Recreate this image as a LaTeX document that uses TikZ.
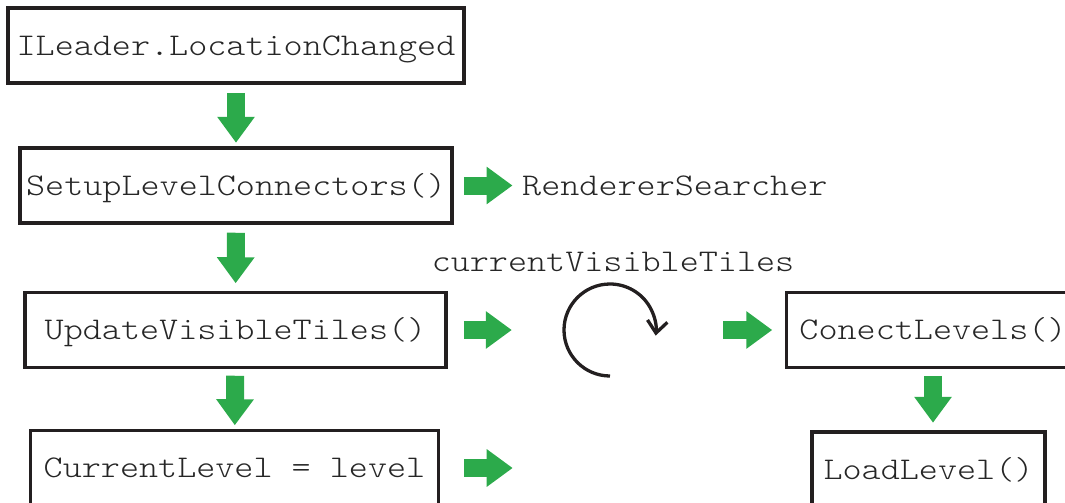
\documentclass[tikz,border=0pt]{standalone}
\usepackage{fontspec}
\newfontfamily\codefamily{lmmonolt10-regular.otf}[FakeStretch=1.15]
\newcommand\codefont{\codefamily\fontsize{31.6}{36}\selectfont}
\usetikzlibrary{arrows.meta}
\definecolor{flowgreen}{RGB}{44,170,75}
\definecolor{inkblack}{RGB}{35,31,32}
\tikzset{
codetext/.style={inner sep=0pt, text height=19.3pt, text depth=0pt,
  font=\codefont, text=black!85},
codebox/.style={codetext, draw=inkblack, line width=3.5pt, minimum height=75pt},
flow/.style={flowgreen, line width=18pt, -{Triangle[width=36pt,length=26pt]}},
loopline/.style={inkblack, line width=3.3pt, -{Straight Barb[length=12pt,width=20pt]}}
}

\begin{document}
\begin{tikzpicture}[x=1pt,y=-1pt]
\useasboundingbox (0,0) rectangle (1065,503);
% call chain on the left
\node[codebox, minimum width=456pt] (leader) at (236,45.5) {ILeader.LocationChanged};
\node[codebox, minimum width=432pt] (setup) at (236,185.5) {SetupLevelConnectors()};
\node[codebox, minimum width=421pt] (update) at (235.5,330) {UpdateVisibleTiles()};
\node[codebox, minimum width=408pt] (current) at (234.5,468) {CurrentLevel = level};
% right column
\node[codebox, minimum width=293pt] (connect) at (933,330) {ConectLevels()};
\node[codebox, minimum width=233pt] (load) at (928.5,469.5) {LoadLevel()};
\node[codetext, anchor=west] (searcher) at (522,186) {RendererSearcher};
\node[codetext] (tiles) at (613,262) {currentVisibleTiles};
\node[circle, minimum size=92pt, inner sep=0pt] (loop) at (610,330) {};
\coordinate (levelout) at (512.7,468);
% loop over the visible tiles
\draw[loopline] ([shift={(90:46)}]loop.center) arc[start angle=90, end angle=367, radius=46];
% green arrows
\draw[flow, shorten <=8pt, shorten >=3.5pt] (leader) -- (setup);
\draw[flow, shorten <=8pt, shorten >=7.5pt] (setup) -- (update);
\draw[flow, shorten <=6.5pt, shorten >=3.5pt] (update) -- (current);
\draw[flow, shorten <=10pt, shorten >=9.5pt] (setup.east) -- (setup.east -| searcher.west);
\draw[flow, shorten <=16pt, shorten >=52pt] (update) -- (loop);
\draw[flow, shorten <=67pt, shorten >=12.5pt] (loop) -- (connect);
\draw[flow, shorten <=24pt] (current.east) -- (levelout);
\draw[flow, shorten <=6.5pt, shorten >=7.5pt] (connect) -- (connect |- load.north);
\end{tikzpicture}
\end{document}
